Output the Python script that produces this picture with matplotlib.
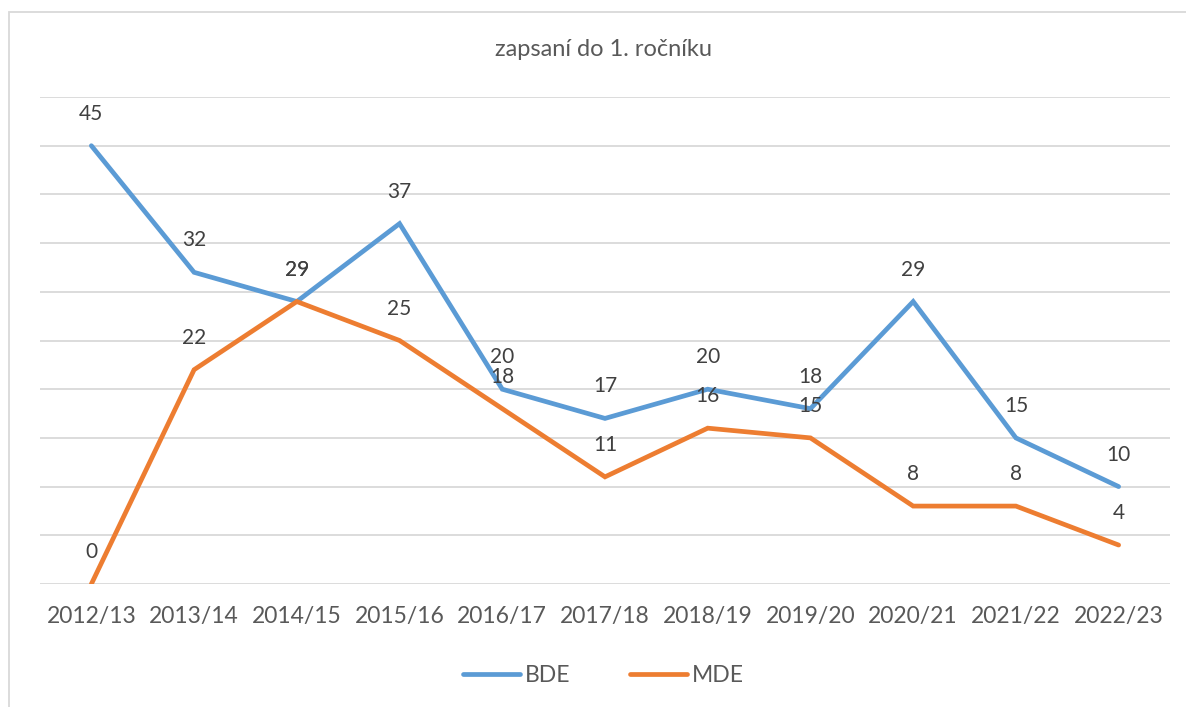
import matplotlib.pyplot as plt
from matplotlib.patches import Rectangle

years = ['2012/13', '2013/14', '2014/15', '2015/16', '2016/17', '2017/18',
         '2018/19', '2019/20', '2020/21', '2021/22', '2022/23']
bde = [45, 32, 29, 37, 20, 17, 20, 18, 29, 15, 10]
mde = [0, 22, 29, 25, 18, 11, 16, 15, 8, 8, 4]

blue = '#5B9BD5'
orange = '#ED7D31'
txt = '#595959'
lbl = '#404040'
plt.rcParams['font.family'] = ['Lato', 'DejaVu Sans']

fig = plt.figure(figsize=(11.86, 7.07), dpi=100)
ax = fig.add_axes([40/1186, 1-584/707, 1130/1186, 487/707])

x = list(range(len(years)))
ax.plot(x, bde, color=blue, lw=3.4, solid_capstyle='round', solid_joinstyle='miter', label='BDE', zorder=3)
ax.plot(x, mde, color=orange, lw=3.4, solid_capstyle='round', solid_joinstyle='miter', label='MDE', zorder=3)

for i in x:
    ax.annotate(str(bde[i]), (i, bde[i]), xytext=(0, 23), textcoords='offset points',
                ha='center', va='center', fontsize=15, color=lbl, zorder=4)
    ax.annotate(str(mde[i]), (i, mde[i]), xytext=(0, 23), textcoords='offset points',
                ha='center', va='center', fontsize=15, color=lbl, zorder=4)

ax.set_xlim(-0.5, len(years) - 0.5)
ax.set_ylim(0, 50)
ax.set_yticks(range(0, 51, 5))
ax.set_yticklabels([])
ax.set_xticks(x)
ax.set_xticklabels(years, fontsize=16.5, color=txt)
ax.tick_params(axis='both', length=0)
ax.tick_params(axis='x', pad=16)
ax.grid(axis='y', color='#D9D9D9', lw=1.3)
for s in ax.spines.values():
    s.set_visible(False)
ax.set_axisbelow(True)

fig.text(604/1186, 1-50/707, 'zapsaní do 1. ročníku', ha='center', va='center',
         fontsize=17, color=txt)

fig.legend(loc='center', bbox_to_anchor=(603/1186, 1-676/707), ncol=2, frameon=False,
           fontsize=16.5, labelcolor=txt, handlelength=2.5, handletextpad=0.2, columnspacing=2.6)

fig.patches.append(Rectangle((8.5/1186, -0.1), 1.2, 1.1 - 11.5/707, transform=fig.transFigure,
                             fill=False, edgecolor='#D9D9D9', lw=1.3))

fig.savefig('out.png', dpi=100)
